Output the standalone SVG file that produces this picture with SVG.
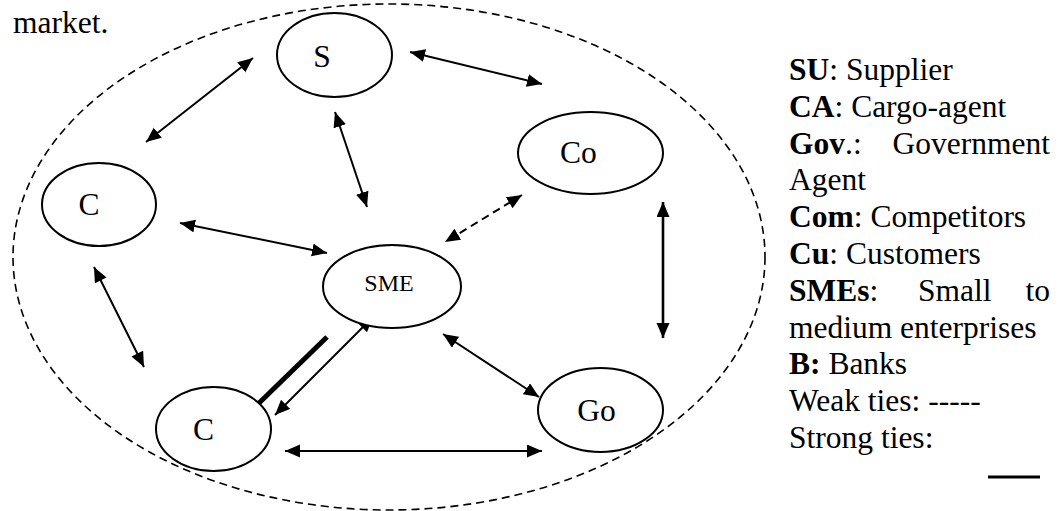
<svg xmlns="http://www.w3.org/2000/svg" width="1060" height="511" viewBox="0 0 1060 511">
<style>
text{font-family:"Liberation Serif","Times New Roman",serif;fill:#000}
.t{font-size:31.5px}
.s{font-size:24px}
.b{font-weight:bold}
.node{fill:#fff;stroke:#000;stroke-width:2}
.c{stroke:#000;stroke-width:2;fill:none;marker-start:url(#ah);marker-end:url(#ah)}
.dash{stroke-dasharray:8 5}
</style>
<defs>
<marker id="ah" markerUnits="userSpaceOnUse" markerWidth="16" markerHeight="14" refX="15" refY="6.5" orient="auto-start-reverse" viewBox="0 0 16 14">
<path d="M0,0 L15,6.5 L0,13 z" fill="#000"/>
</marker>
</defs>
<rect width="1060" height="511" fill="#fff"/>
<text class="t" x="13" y="33">market.</text>
<ellipse id="boundary" cx="389" cy="257" rx="376" ry="253" fill="none" stroke="#000" stroke-width="1.6" stroke-dasharray="8 5"/>
<g id="connectors">
<line class="c" x1="253" y1="58" x2="146" y2="142"/>
<line class="c" x1="335" y1="112" x2="367" y2="207"/>
<line class="c" x1="410" y1="52" x2="542" y2="84"/>
<line class="c" x1="180" y1="223" x2="327" y2="253"/>
<line class="c dash" x1="522" y1="195" x2="445" y2="242"/>
<line class="c" style="stroke-width:2.6" x1="663" y1="202" x2="663" y2="338"/>
<line class="c" x1="94" y1="267" x2="144" y2="367"/>
<line class="c" x1="373" y1="317" x2="275" y2="415"/>
<line x1="327" y1="337" x2="258" y2="404" stroke="#000" stroke-width="5"/>
<line class="c" x1="443" y1="334" x2="539" y2="397"/>
<line class="c" x1="285" y1="451" x2="542" y2="451"/>
</g>
<g id="node-S"><ellipse class="node" cx="334.5" cy="55" rx="57.5" ry="42"/><text class="t" x="322" y="67" text-anchor="middle">S</text></g>
<g id="node-Co"><ellipse class="node" cx="590.5" cy="153" rx="72.5" ry="41"/><text class="t" x="578.5" y="163" text-anchor="middle">Co</text></g>
<g id="node-C1"><ellipse class="node" cx="99" cy="204.5" rx="57" ry="41.5"/><text class="t" x="89" y="215" text-anchor="middle">C</text></g>
<g id="node-SME"><ellipse class="node" cx="392" cy="286.5" rx="69" ry="41.5"/><text class="s" x="389" y="291" text-anchor="middle">SME</text></g>
<g id="node-C2"><ellipse class="node" cx="213.5" cy="429" rx="57.5" ry="42"/><text class="t" x="203.5" y="440" text-anchor="middle">C</text></g>
<g id="node-Go"><ellipse class="node" cx="600.5" cy="410" rx="62.5" ry="42"/><text class="t" x="596.5" y="421" text-anchor="middle">Go</text></g>
<g id="legend">
<text class="t" x="789" y="80"><tspan class="b">SU</tspan>:  Supplier</text>
<text class="t" x="789" y="116.8"><tspan class="b">CA</tspan>: Cargo-agent</text>
<text class="t" x="789" y="153.6"><tspan class="b">Gov</tspan>.:</text>
<text class="t" x="1050" y="153.6" text-anchor="end">Government</text>
<text class="t" x="789" y="190.4">Agent</text>
<text class="t" x="789" y="227.2"><tspan class="b">Com</tspan>: Competitors</text>
<text class="t" x="789" y="264"><tspan class="b">Cu</tspan>: Customers</text>
<text class="t" x="789" y="300.8"><tspan class="b">SMEs</tspan>:</text>
<text class="t" x="918" y="300.8">Small</text>
<text class="t" x="1050" y="300.8" text-anchor="end">to</text>
<text class="t" x="789" y="337.6">medium enterprises</text>
<text class="t" x="789" y="374.4"><tspan class="b">B:</tspan> Banks</text>
<text class="t" x="789" y="411.2">Weak ties: -----</text>
<text class="t" x="789" y="448">Strong ties:</text>
<line x1="988" y1="477" x2="1040" y2="477" stroke="#000" stroke-width="3"/>
</g>
</svg>
